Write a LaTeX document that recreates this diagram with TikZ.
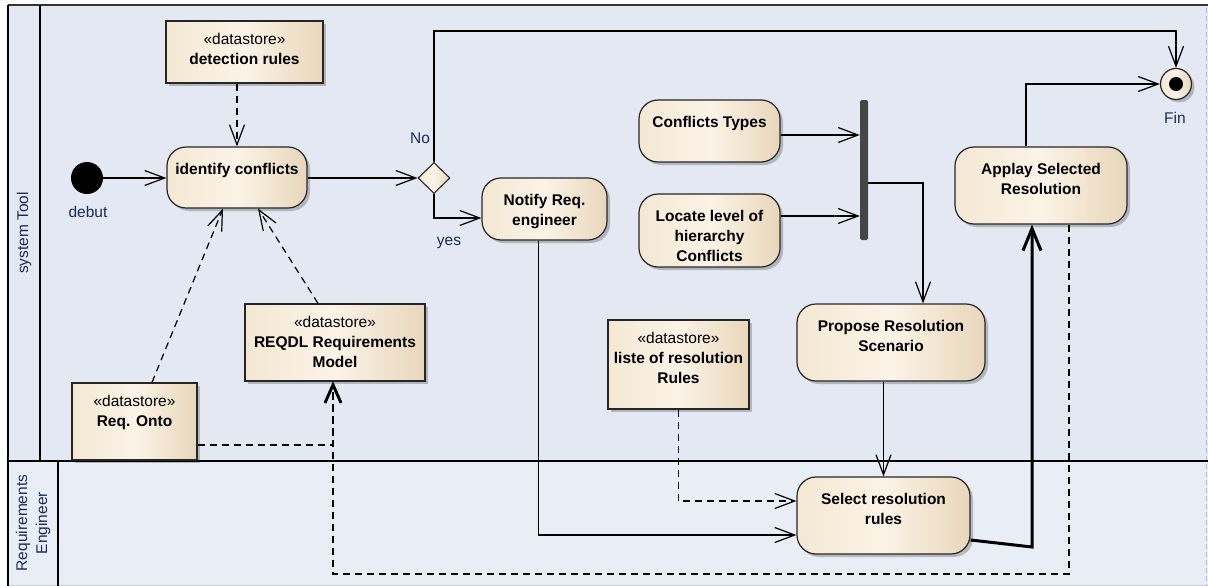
\documentclass[tikz,border=0pt]{standalone}
\usepackage{fontspec}
\setmainfont{Liberation Sans}
\usetikzlibrary{arrows.meta,shadows,calc,shapes.geometric}
\definecolor{laneA}{HTML}{E3E8F3}
\definecolor{laneB}{HTML}{E9EDF6}
\definecolor{creamL}{HTML}{F4E8D3}
\definecolor{creamM}{HTML}{FBF3E7}
\definecolor{creamR}{HTML}{E8D6BA}
\definecolor{lblcol}{HTML}{1C2B55}
\definecolor{barcol}{HTML}{454545}
\definecolor{pagecol}{HTML}{AFC0E0}
\begin{document}
\begin{tikzpicture}[x=1pt,y=-1pt,
  every node/.style={font=\fontsize{15.5}{20}\selectfont},
  creamfill/.style={left color=creamL, right color=creamR, middle color=creamM},
  shadowed/.style={drop shadow={shadow xshift=3pt,shadow yshift=-3pt,fill=black,opacity=0.22}},
  actbox/.style={draw=black!85, line width=1.2pt, rounded corners=19pt, creamfill, shadowed, inner sep=0pt},
  storebox/.style={draw=black!85, line width=1.3pt, creamfill, shadowed, inner sep=0pt},
  txtbase/.style={anchor=north, inner sep=0pt, align=center, font=\fontsize{15.5}{20}\selectfont\bfseries, text=black},
  acttxt/.style={txtbase, yshift=-14pt},
  sttxt/.style={txtbase, yshift=-10pt},
  smalltxt/.style={font=\fontsize{15.5}{20}\selectfont, text=lblcol, inner sep=0pt},
  flow/.style={line width=1.2pt, -{Straight Barb[length=20pt,width=15pt]}},
  dflow/.style={flow, dash pattern=on 7pt off 5pt},
  dreq/.style={line width=1.2pt, dash pattern=on 7pt off 5pt, -{Straight Barb[length=18pt,width=16pt,line width=2.6pt]}},
  thickflow/.style={line width=3pt, -{Straight Barb[length=22pt,width=18pt]}}
]
\useasboundingbox (0,0) rectangle (1208,586);
\fill[white] (0,0) rectangle (1208,586);
% lanes
\fill[laneA] (8,5) rectangle (1208,461);
\fill[laneB] (8,461) rectangle (1208,586);
\draw[black!20, line width=1pt] (8,585) -- (1208,585);
\draw[pagecol, line width=1pt, dash pattern=on 5pt off 3pt] (1206,8) -- (1206,586);
\draw[black!80, line width=2pt] (8,5) -- (1208,5);
\draw[line width=1.5pt] (8,5) -- (8,586);
\draw[line width=1.5pt] (40,5) -- (40,461);
\draw[line width=1.5pt] (58,461) -- (58,586);
\draw[line width=1.5pt] (8,461) -- (1208,461);
\node[smalltxt, rotate=90] (lane1) at (24,233) {system Tool};
\node[smalltxt, rotate=90, align=center] (lane2) at (33,523) {Requirements\\Engineer};

% nodes
\node[storebox, minimum width=157pt, minimum height=62pt,
  label={[sttxt]north:{\strut{\mdseries «datastore»}\\detection rules}}] (detect) at (244.5,52) {};
\node[circle, fill=black, minimum size=32pt, inner sep=0pt] (init) at (87,178) {};
\node[smalltxt] (debutl) at (88,212) {debut};
\node[actbox, minimum width=140pt, minimum height=61pt,
  label={[acttxt]north:{\strut identify conflicts}}] (ident) at (237,177.5) {};
\node[diamond, aspect=1, draw=black!85, line width=1.1pt, creamfill, minimum width=32pt, minimum height=31pt, inner sep=0pt] (dec) at (434,178) {};
\node[smalltxt] (nol) at (420,138) {No};
\node[smalltxt] (yesl) at (449,243) {yes};
\node[actbox, minimum width=125pt, minimum height=62pt,
  label={[acttxt]north:{\strut Notify Req.\\engineer}}] (notify) at (544.5,209) {};
\node[actbox, minimum width=141pt, minimum height=62pt,
  label={[acttxt]north:{\strut Conflicts Types}}] (ctypes) at (709.5,131) {};
\node[actbox, minimum width=141pt, minimum height=73pt,
  label={[acttxt]north:{\strut Locate level of\\hierarchy\\Conflicts}}] (locate) at (709.5,230.5) {};
\node[fill=barcol, minimum width=8pt, minimum height=140pt, inner sep=0pt, rounded corners=1.5pt] (bar) at (864,170) {};
\node[actbox, minimum width=172pt, minimum height=77pt,
  label={[acttxt]north:{\strut Applay Selected\\Resolution}}] (apply) at (1041,185.5) {};
\node[circle, draw=black!85, line width=1.2pt, creamfill, minimum size=31pt, inner sep=0pt, shadowed] (fin) at (1176,84) {};
\fill (fin.center) circle (7);
\node[smalltxt] (finl) at (1175,118) {Fin};
\node[storebox, minimum width=180pt, minimum height=77pt,
  label={[sttxt]north:{\strut{\mdseries «datastore»}\\REQDL Requirements\\Model}}] (reqdl) at (335,342.5) {};
\node[storebox, minimum width=125pt, minimum height=77pt,
  label={[sttxt]north:{\strut{\mdseries «datastore»}\\Req. Onto}}] (onto) at (134.5,421.5) {};
\node[storebox, minimum width=141pt, minimum height=89pt,
  label={[sttxt]north:{\strut{\mdseries «datastore»}\\liste of resolution\\Rules}}] (liste) at (678.5,364.5) {};
\node[actbox, minimum width=188pt, minimum height=77pt,
  label={[acttxt]north:{\strut Propose Resolution\\Scenario}}] (propose) at (891,342.5) {};
\node[actbox, minimum width=173pt, minimum height=77pt,
  label={[acttxt]north:{\strut Select resolution\\rules}}] (select) at (883.5,515.5) {};

% connectors
\draw[flow] (init) -- (init -| ident.west);
\draw[dflow] (ident.north |- detect.south) -- (ident.north);
\draw[flow] (ident.east |- dec) -- (dec.west);
\coordinate (topl) at (434,31);
\draw[flow] (dec.north) -- (topl) -| (fin.north);
\draw[flow] (dec.south) |- ($(notify.west)+(0,9)$);
\draw[flow] ($(notify.south)+(-6,0)$) |- ($(select.west)+(0,19.5)$);
\draw[dflow] (liste.south) |- ($(select.west)+(0,-14.5)$);
\coordinate (c1) at ($(ctypes.east)+(0,4)$);
\draw[flow] (c1) -- (c1 -| bar.west);
\coordinate (l1) at ($(locate.east)+(0,-14.5)$);
\draw[flow] (l1) -- (l1 -| bar.west);
\draw[flow] ($(bar.east)+(0,13)$) -| ($(propose.north)+(32,0)$);
\draw[flow] (select.north |- propose.south) -- (select.north);
\coordinate (k1) at (1032,547);
\draw[thickflow] ($(select.east)+(0,24.5)$) -- (k1) -- (k1 |- apply.south);
\draw[flow] ($(apply.north)+(-15,0)$) |- (fin.west);
\coordinate (rq) at ($(reqdl.south)+(-2,0)$);
\coordinate (b1) at (0,574);
\draw[dreq] ($(apply.south)+(28,0)$) |- (rq |- b1) -- (rq);
\draw[dreq] ($(onto.east)+(0,23.5)$) -| (rq);
\draw[dflow] ($(onto.north)+(17.5,0)$) -- ($(ident.south)+(-14,0)$);
\draw[dflow] ($(reqdl.north)+(-17,0)$) -- ($(ident.south)+(21,0)$);
\end{tikzpicture}
\end{document}
